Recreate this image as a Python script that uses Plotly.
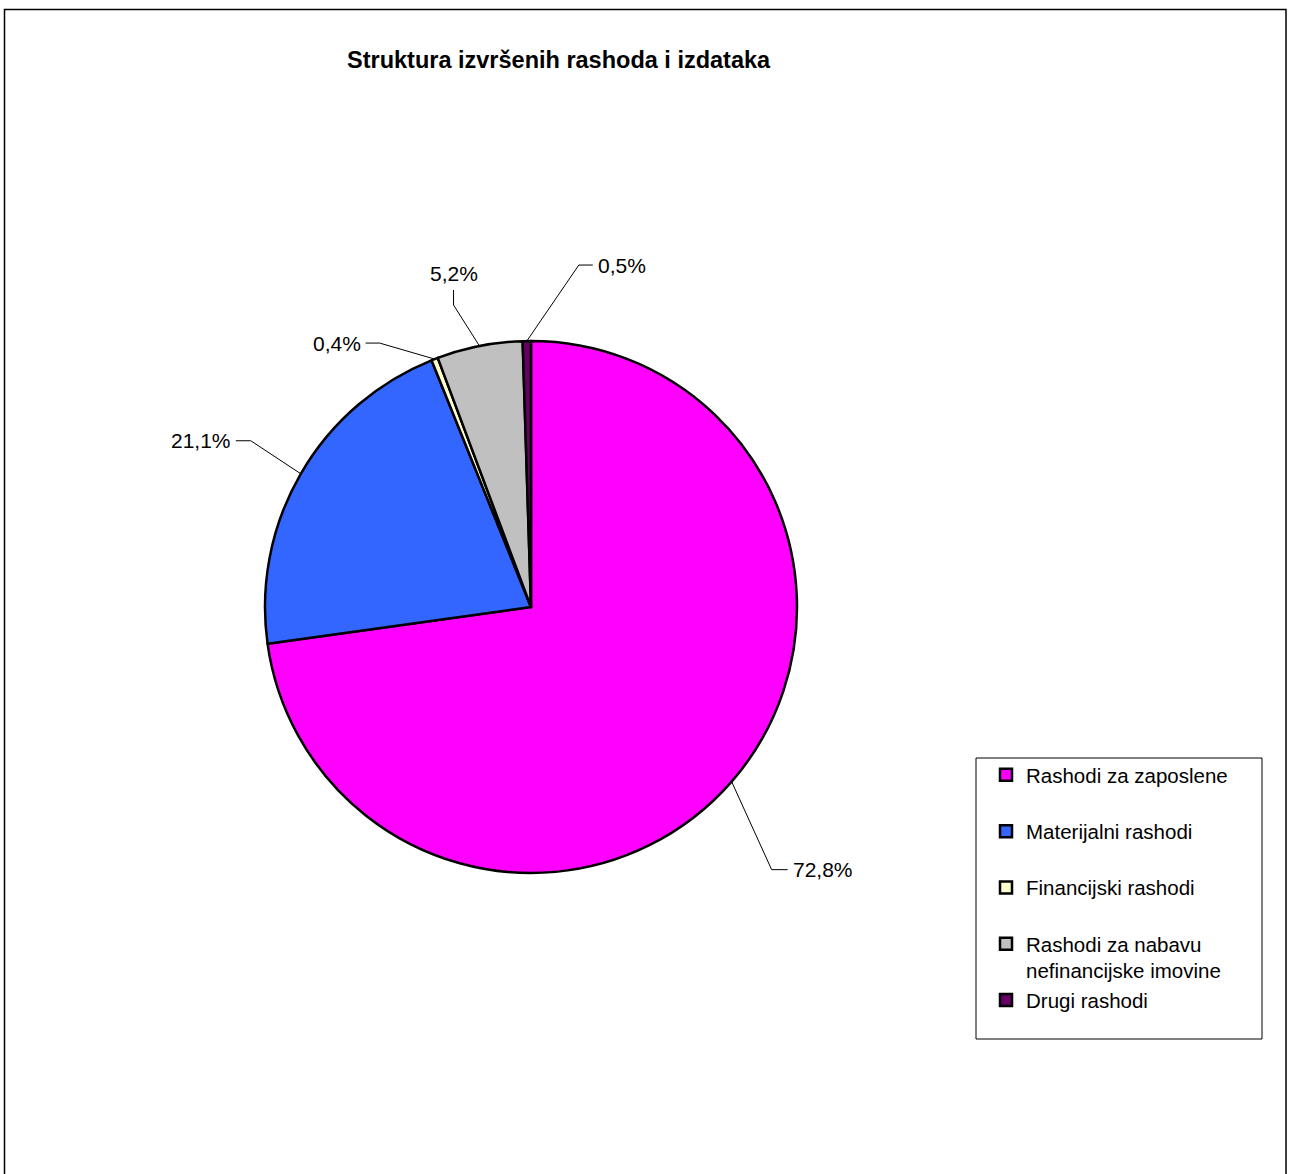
import math
import plotly.graph_objects as go

# ---- data ----
categories = [
    "Rashodi za zaposlene",
    "Materijalni rashodi",
    "Financijski rashodi",
    "Rashodi za nabavu<br>nefinancijske imovine",
    "Drugi rashodi",
]
shares = [72.8, 21.1, 0.4, 5.2, 0.5]
title_text = "Struktura izvršenih rashoda i izdataka"

# ---- styling ----
colors = ["#FF00FF", "#3366FF", "#FFFFCC", "#C0C0C0", "#660066"]
W, H = 1289, 1174
CX, CY, R = 531, 607, 266            # pie centre / radius in screen pixels
FONT = "Liberation Sans, Arial, sans-serif"
# leader styling: elbow offset from slice edge, tail direction
leader = [
    dict(dx=40, dy=88, tail=(16, 0), anchor="left"),
    dict(dx=-50, dy=-33, tail=(-15, 0), anchor="right"),
    dict(dx=-55, dy=-16, tail=(-14, 0), anchor="right"),
    dict(dx=-26, dy=-41, tail=(0, -15), anchor="top"),
    dict(dx=52, dy=-76, tail=(14, 0), anchor="left"),
]


def px(x):
    return x / W


def py(y):
    return 1 - y / H


# legend entries padded to a two-line height, as in the original legend
legend_names = [c if "<br>" in c else c + "<br>&nbsp;" for c in categories]

fig = go.Figure()
fig.add_trace(go.Pie(
    labels=legend_names,
    values=shares,
    sort=False,
    direction="clockwise",
    rotation=0,
    marker=dict(colors=colors, line=dict(color="#000000", width=2.5)),
    textinfo="none",
    hoverinfo="skip",
    domain=dict(x=[px(CX - R), px(CX + R)], y=[py(CY + R), py(CY - R)]),
    showlegend=True,
))

shapes = []
annotations = []
total = sum(shares)
cum = 0.0
for v, st in zip(shares, leader):
    mid = (cum + v / 2) / total * 2 * math.pi
    cum += v
    ex = CX + R * math.sin(mid)
    ey = CY - R * math.cos(mid)
    bx, by = ex + st["dx"], ey + st["dy"]
    tx, ty = bx + st["tail"][0], by + st["tail"][1]
    for (x0, y0, x1, y1) in [(ex, ey, bx, by), (bx, by, tx, ty)]:
        shapes.append(dict(type="line", xref="paper", yref="paper",
                           x0=px(x0), y0=py(y0), x1=px(x1), y1=py(y1),
                           line=dict(color="#000000", width=1)))
    label = f"{v:.1f}".replace(".", ",") + "%"
    if st["anchor"] == "left":
        ann = dict(x=px(tx + 3), y=py(ty), xanchor="left", yanchor="middle")
    elif st["anchor"] == "right":
        ann = dict(x=px(tx - 3), y=py(ty), xanchor="right", yanchor="middle")
    else:
        ann = dict(x=px(tx), y=py(ty - 3), xanchor="center", yanchor="bottom")
    ann.update(text=label, showarrow=False, xref="paper", yref="paper",
               font=dict(family=FONT, size=21, color="#000000"))
    annotations.append(ann)

# title
annotations.append(dict(text="<b>" + title_text + "</b>", x=px(559), y=py(60),
                        xref="paper", yref="paper", xanchor="center", yanchor="middle",
                        showarrow=False, font=dict(family=FONT, size=23.5, color="#000000")))

# outer chart frame and legend frame
shapes.append(dict(type="rect", xref="paper", yref="paper",
                   x0=px(4.5), x1=px(1286), y0=py(9.5), y1=py(1190),
                   line=dict(color="#000000", width=1.5)))
shapes.append(dict(type="rect", xref="paper", yref="paper",
                   x0=px(976), x1=px(1262), y0=py(758), y1=py(1039),
                   line=dict(color="#000000", width=1)))

fig.update_layout(
    width=W, height=H,
    margin=dict(l=0, r=0, t=0, b=0),
    paper_bgcolor="#FFFFFF", plot_bgcolor="#FFFFFF",
    shapes=shapes, annotations=annotations,
    legend=dict(x=px(986), y=py(755), xanchor="left", yanchor="top",
                valign="top", bgcolor="rgba(0,0,0,0)", borderwidth=0,
                font=dict(family=FONT, size=20.5, color="#000000"),
                tracegroupgap=0),
)

fig.write_html(
    "out.html",
    config={"displayModeBar": False},
    post_script="document.body.style.margin='0';document.body.style.overflow='hidden';",
)
